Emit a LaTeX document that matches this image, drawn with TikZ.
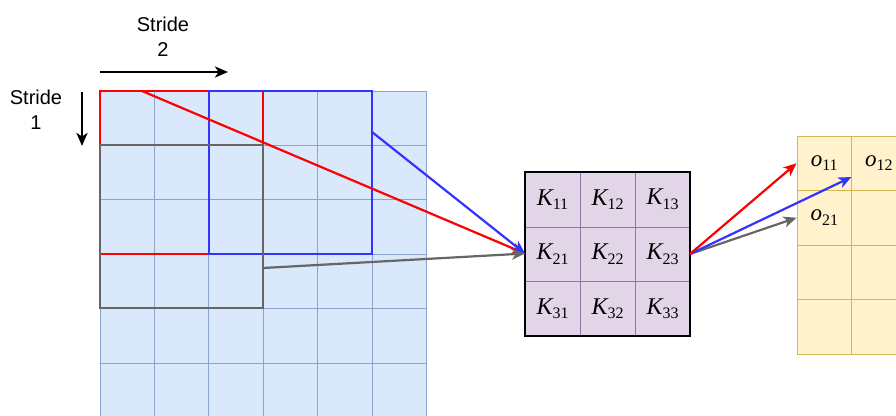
\documentclass[tikz,border=0pt]{standalone}
\usepackage{fontspec}
\setmainfont{Liberation Serif}
\newfontfamily\sansf{Liberation Sans}
\usetikzlibrary{arrows.meta}
\definecolor{infill}{HTML}{DAE8FC}
\definecolor{inline}{HTML}{6C8EBF}
\definecolor{kfill}{HTML}{E1D5E7}
\definecolor{kline}{HTML}{9673A6}
\definecolor{ofill}{HTML}{FFF2CC}
\definecolor{oline}{HTML}{D6B656}
\definecolor{myred}{HTML}{FF0000}
\definecolor{myblue}{HTML}{3333FF}
\definecolor{mygray}{HTML}{666666}
\newcommand\lbl[2]{{\itshape #1}\raisebox{-0.42ex}{\fontsize{16}{16}\selectfont #2}}
\begin{document}
\begin{tikzpicture}[x=1pt,y=-1pt,
  gridline/.style={draw=inline!80,line width=0.8pt},
  winbox/.style={draw,line width=2.5pt,minimum width=163.2pt,minimum height=163.2pt,inner sep=0pt},
  kcell/.style={draw=kline,fill=kfill,line width=0.7pt,minimum width=55pt,minimum height=54.7pt,inner sep=0pt,font=\fontsize{24}{24}\selectfont},
  ocell/.style={draw=oline,fill=ofill,line width=0.8pt,minimum width=54.5pt,minimum height=54.5pt,inner sep=0pt},
  olabel/.style={font=\fontsize{23}{23}\selectfont},
  conn/.style={line width=2.2pt,-{Stealth[length=13pt,width=11pt,inset=3.5pt]}},
  stride/.style={line width=2.4pt,-{Stealth[length=13pt,width=11pt,inset=3.5pt]}},
  slabel/.style={font=\sansf\fontsize{20}{25}\selectfont,align=center}
]
\useasboundingbox (0,0) rectangle (896,415);
\begin{scope}
\clip (0,0) rectangle (896,415);
% input grid
\fill[infill] (100,91) rectangle (426.4,417.4);
\foreach \i in {0,...,6} {
  \draw[gridline] (100+\i*54.4,91) -- (100+\i*54.4,417.4);
  \draw[gridline] (100,91+\i*54.4) -- (426.4,91+\i*54.4);
}
% output grid
\foreach \r in {1,...,4} {
  \foreach \c in {1,...,2} {
    \node[ocell] (o\r\c) at (824.25+\c*54.5-54.5,163.25+\r*54.5-54.5) {};
  }
}
\end{scope}
\node[olabel] (t11) at (o11) {\lbl{o}{11}};
\node[olabel] (t12) at (o12) {\lbl{o}{12}};
\node[olabel] (t21) at (o21) {\lbl{o}{21}};

% windows
\node[winbox,draw=myred] (redbox) at (181.6,172.6) {};
\node[winbox,draw=myblue] (bluebox) at (290.4,172.6) {};
\node[winbox,draw=mygray] (graybox) at (181.6,226.6) {};

% kernel
\foreach \r in {1,...,3} {
  \foreach \c in {1,...,3} {
    \node[kcell] (k\r\c) at (552.5+\c*55-55,199.5+\r*54.7-54.7) {\lbl{K}{\r\c}};
  }
}
\node[draw=black,line width=2.4pt,minimum width=165pt,minimum height=164pt,inner sep=0pt] (kernel) at (607.5,254) {};

% stride labels
\node[slabel] (s2) at (163,37) {Stride\\2};
\node[slabel] (s1) at (36,110) {Stride\\1};
\coordinate (h1) at (100,72);
\coordinate (h2) at (228,72);
\coordinate (v1) at (82,92);
\coordinate (v2) at (82,146);
\draw[stride] (h1) -- (h2);
\draw[stride] (v1) -- (v2);

% connectors to kernel
\coordinate (redstart) at (142,91);
\coordinate (bluestart) at (372,132);
\coordinate (graystart) at (263.2,268);
\coordinate (kin) at (525,253.5);
\draw[conn,myred] (redstart) -- (kin);
\draw[conn,myblue] (bluestart) -- (kin);
\draw[conn,mygray] (graystart) -- (kin);

% connectors to output
\coordinate (kout) at (690,254);
\coordinate (bluetip) at (851.5,177);
\draw[conn,mygray] (kout) -- (o21.west);
\draw[conn,myblue] (kout) -- (bluetip);
\draw[conn,myred] (kout) -- (o11.west);
\end{tikzpicture}
\end{document}
